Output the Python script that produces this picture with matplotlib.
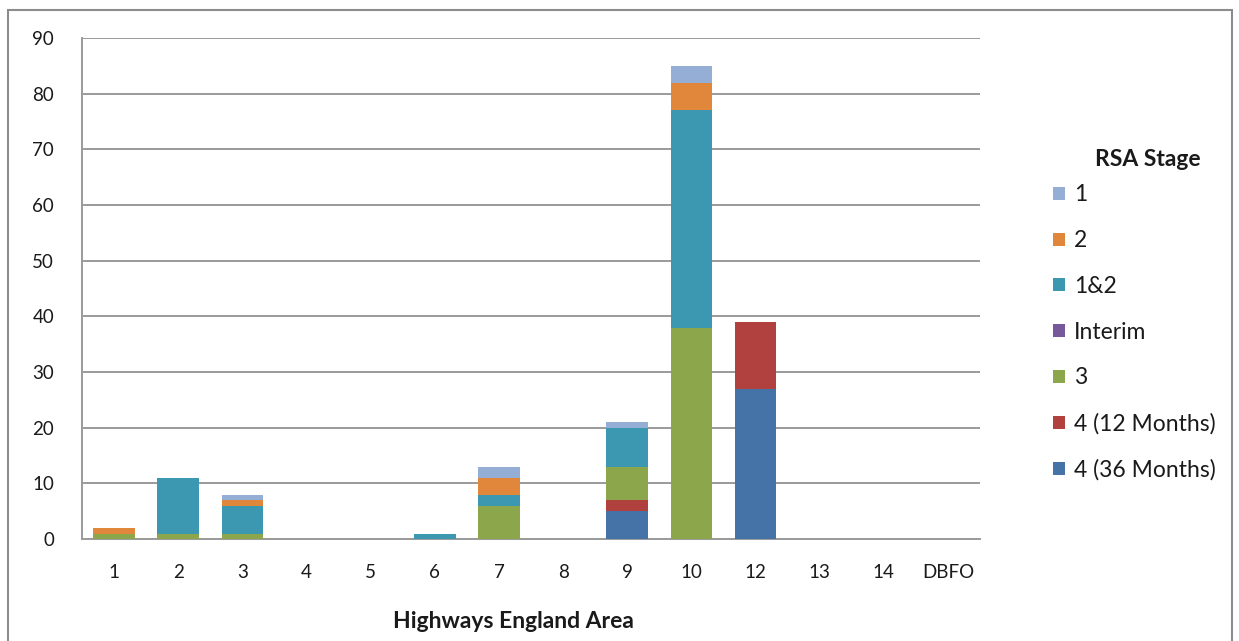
import numpy as np
import matplotlib.pyplot as plt
from matplotlib.patches import Rectangle

plt.rcParams['font.family'] = ['Lato', 'DejaVu Sans']

areas = ['1', '2', '3', '4', '5', '6', '7', '8', '9', '10', '12', '13', '14', 'DBFO']

# counts per RSA stage, stacked bottom to top
stage_36m = [0, 0, 0, 0, 0, 0, 0, 0, 5, 0, 27, 0, 0, 0]
stage_12m = [0, 0, 0, 0, 0, 0, 0, 0, 2, 0, 12, 0, 0, 0]
stage_3 = [1, 1, 1, 0, 0, 0, 6, 0, 6, 38, 0, 0, 0, 0]
stage_interim = [0, 0, 0, 0, 0, 0, 0, 0, 0, 0, 0, 0, 0, 0]
stage_1and2 = [0, 10, 5, 0, 0, 1, 2, 0, 7, 39, 0, 0, 0, 0]
stage_2 = [1, 0, 1, 0, 0, 0, 3, 0, 0, 5, 0, 0, 0, 0]
stage_1 = [0, 0, 1, 0, 0, 0, 2, 0, 1, 3, 0, 0, 0, 0]

series = [
    ('4 (36 Months)', stage_36m, '#4572A7'),
    ('4 (12 Months)', stage_12m, '#B0413F'),
    ('3', stage_3, '#8CA64C'),
    ('Interim', stage_interim, '#77589B'),
    ('1&2', stage_1and2, '#3C98B0'),
    ('2', stage_2, '#E0873C'),
    ('1', stage_1, '#94AED6'),
]

fig = plt.figure(figsize=(12.39, 6.41), dpi=100)
ax = fig.add_axes([0.0662, 0.159, 0.7248, 0.7817])

x = np.arange(len(areas))
bottom = np.zeros(len(areas))
handles = []
for label, vals, color in series:
    b = ax.bar(x, vals, width=0.65, bottom=bottom, color=color, label=label, zorder=3)
    handles.append(b)
    bottom += np.array(vals)

ax.set_xlim(-0.5, len(areas) - 0.5)
ax.set_ylim(0, 90)
ax.set_yticks(range(0, 91, 10))
ax.set_xticks(x)
ax.set_xticklabels(areas)
ax.grid(axis='y', color='#9a9a9a', linewidth=1.4, zorder=0)
for s in ['top', 'right']:
    ax.spines[s].set_visible(False)
for s in ['left', 'bottom']:
    ax.spines[s].set_color('#9a9a9a')
    ax.spines[s].set_linewidth(1.4)
ax.tick_params(axis='both', length=0, labelsize=13.5, colors='#1a1a1a')
ax.tick_params(axis='y', pad=20)
ax.tick_params(axis='x', pad=18)

fig.text(513 / 1239, 1 - 621 / 641, 'Highways England Area', ha='center', va='center',
         fontsize=16.5, fontweight='bold', color='#1a1a1a')

# legend title drawn on its own, entries below it
fig.text(1148 / 1239, 1 - 160 / 641, 'RSA Stage', ha='center', va='center',
         fontsize=16.5, fontweight='bold', color='#1a1a1a')
leg = fig.legend(handles[::-1], [s[0] for s in series][::-1], loc='upper left',
                 bbox_to_anchor=(1042 / 1239, 1 - 173 / 641), frameon=False,
                 fontsize=16.5, borderpad=0, handlelength=0.5, handleheight=0.5,
                 handletextpad=0.4, labelspacing=1.08)
for t in leg.get_texts():
    t.set_color('#1a1a1a')

# outer chart border
fig.patches.append(Rectangle((8 / 1239, -0.02), 1224 / 1239, 1.02 - 10 / 641,
                             transform=fig.transFigure, fill=False,
                             edgecolor='#8c8c8c', linewidth=1.5))

fig.savefig('out.png', dpi=100)
